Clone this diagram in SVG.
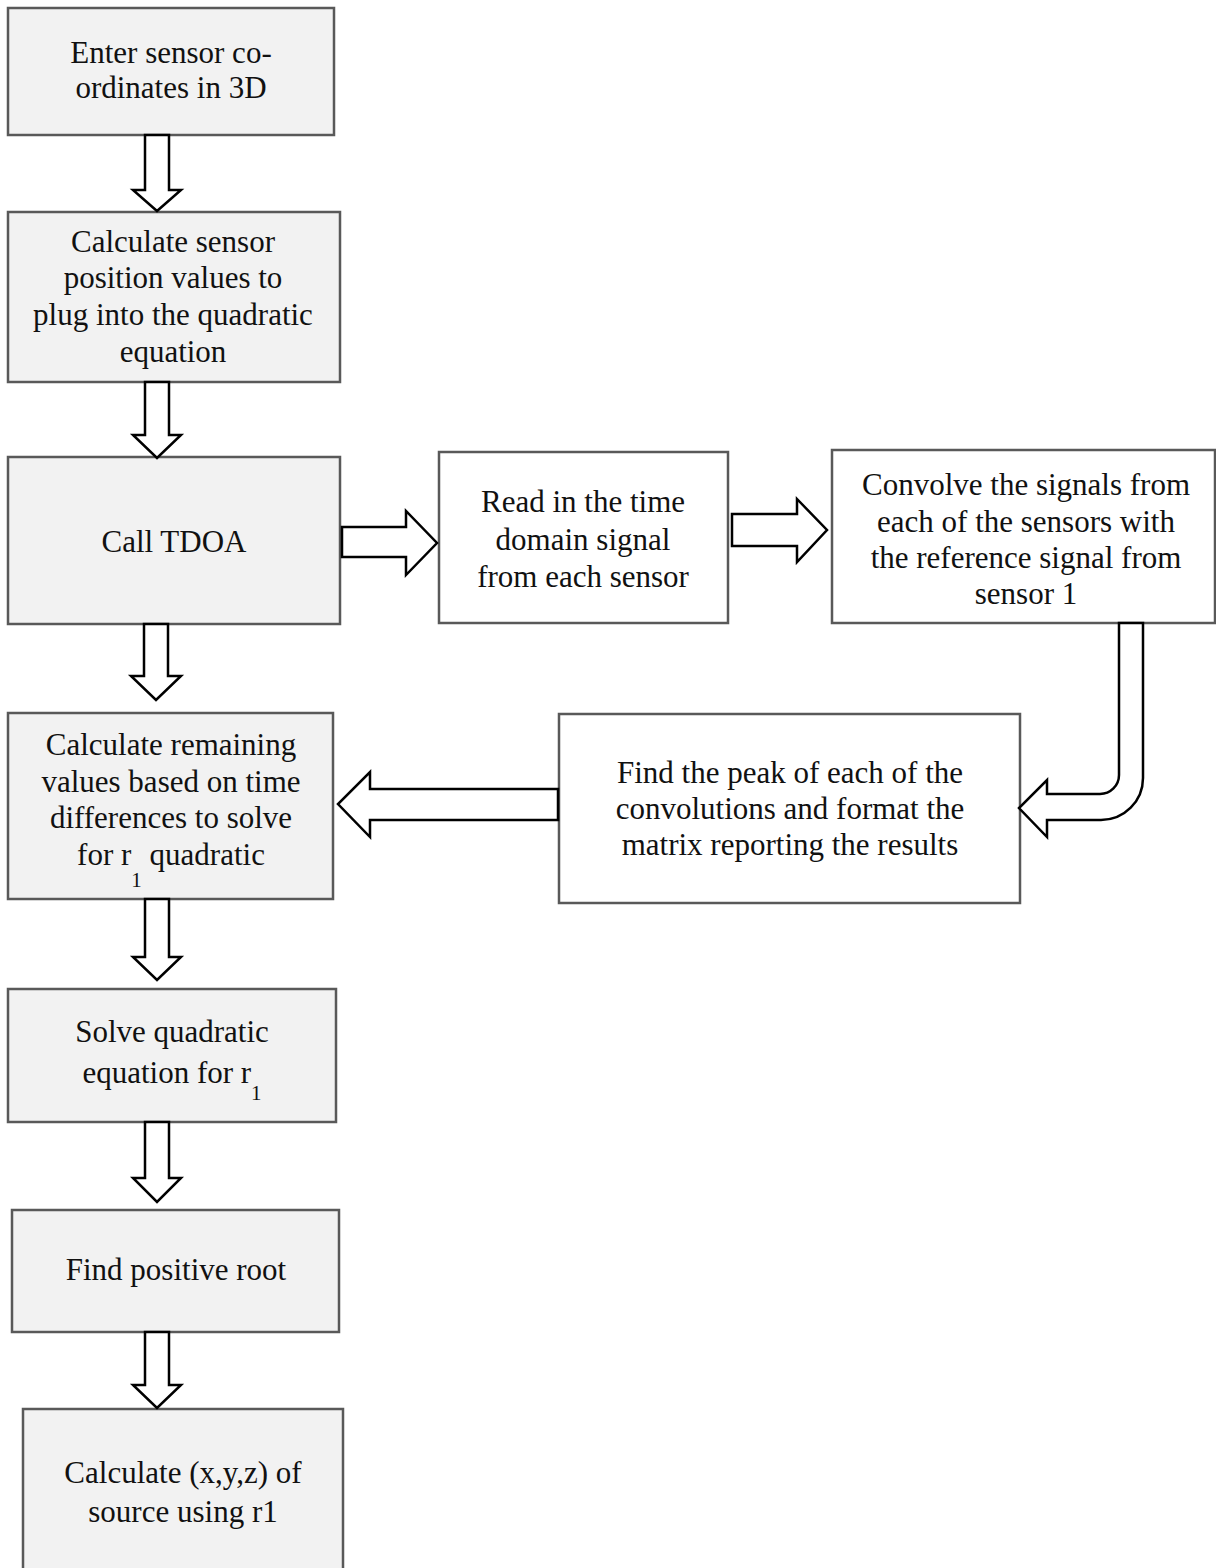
<svg xmlns="http://www.w3.org/2000/svg" width="1216" height="1568" viewBox="0 0 1216 1568">
<style>
.box{stroke:#595959;stroke-width:2.5;}
.g{fill:#f2f2f2;}
.w{fill:#ffffff;}
.arr{fill:#ffffff;stroke:#000000;stroke-width:2.5;stroke-linejoin:miter;}
text{font-family:"Liberation Serif","Times New Roman",serif;font-size:31px;fill:#111111;text-anchor:middle;}
.sub{font-size:21px;}
</style>
<rect width="1216" height="1568" fill="#ffffff"/>
<g id="n1"><rect class="box g" x="8" y="8" width="326" height="127"/>
<text x="171" y="63">Enter sensor co-</text><text x="171" y="98">ordinates in 3D</text></g>
<g id="n2"><rect class="box g" x="8" y="212" width="332" height="170"/>
<text x="173" y="252">Calculate sensor</text><text x="173" y="288">position values to</text><text x="173" y="325">plug into the quadratic</text><text x="173" y="362">equation</text></g>
<g id="n3"><rect class="box g" x="8" y="457" width="332" height="167"/>
<text x="174" y="552">Call TDOA</text></g>
<g id="n4"><rect class="box w" x="439" y="452" width="289" height="171"/>
<text x="583" y="512">Read in the time</text><text x="583" y="550">domain signal</text><text x="583" y="587">from each sensor</text></g>
<g id="n5"><rect class="box w" x="832" y="450" width="383" height="173"/>
<text x="1026" y="495">Convolve the signals from</text><text x="1026" y="532">each of the sensors with</text><text x="1026" y="568">the reference signal from</text><text x="1026" y="604">sensor 1</text></g>
<g id="n6"><rect class="box w" x="559" y="714" width="461" height="189"/>
<text x="790" y="783">Find the peak of each of the</text><text x="790" y="819">convolutions and format the</text><text x="790" y="855">matrix reporting the results</text></g>
<g id="n7"><rect class="box g" x="8" y="713" width="325" height="186"/>
<text x="171" y="755">Calculate remaining</text><text x="171" y="792">values based on time</text><text x="171" y="828">differences to solve</text><text x="171" y="865">for r<tspan class="sub" dy="22">1</tspan><tspan dy="-22"> quadratic</tspan></text></g>
<g id="n8"><rect class="box g" x="8" y="989" width="328" height="133"/>
<text x="172" y="1042">Solve quadratic</text><text x="172" y="1083">equation for r<tspan class="sub" dy="17">1</tspan></text></g>
<g id="n9"><rect class="box g" x="12" y="1210" width="327" height="122"/>
<text x="176" y="1280">Find positive root</text></g>
<g id="n10"><rect class="box g" x="23" y="1409" width="320" height="170"/>
<text x="183" y="1483">Calculate (x,y,z) of</text><text x="183" y="1522">source using r1</text></g>
<g id="connectors">
<polygon class="arr" points="145,135 169,135 169,190 181,190 157,211 133,190 145,190"/>
<polygon class="arr" points="145,382 169,382 169,435 181,435 157,458 133,435 145,435"/>
<polygon class="arr" points="144,624 168,624 168,676 181,676 156,700 131,676 144,676"/>
<polygon class="arr" points="145,899 169,899 169,957 181,957 157,980 133,957 145,957"/>
<polygon class="arr" points="145,1122 169,1122 169,1178 181,1178 157,1202 133,1178 145,1178"/>
<polygon class="arr" points="145,1332 169,1332 169,1385 181,1385 157,1408 133,1385 145,1385"/>
<polygon class="arr" points="342,527 406,527 406,511 437,543 406,575 406,557 342,557"/>
<polygon class="arr" points="732,514 797,514 797,499 827,530 797,562 797,546 732,546"/>
<polygon class="arr" points="558,789 370,789 370,772 338,804 370,837 370,820 558,820"/>
<path class="arr" d="M1143,623 V778 A42,42 0 0 1 1101,820 H1047 V837 L1019,808 L1047,780 V794 H1100 A19,19 0 0 0 1119,775 V623 Z"/>
</g>
</svg>
